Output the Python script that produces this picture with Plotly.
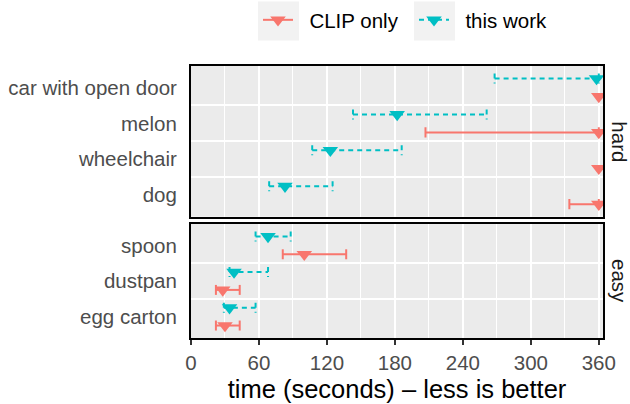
import plotly.graph_objects as go

# ---------------- data ----------------
hard_labels = ["car with open door", "melon", "wheelchair", "dog"]
easy_labels = ["spoon", "dustpan", "egg carton"]

work_hard_mean = [358, 182, 123, 83]
work_hard_lo = [268, 143, 107, 69]
work_hard_hi = [360, 261, 186, 125]

clip_hard_mean = [360, 360, 360, 360]
clip_hard_lo = [None, 207, None, 334]
clip_hard_hi = [None, 360, None, 360]

work_easy_mean = [68, 38, 34]
work_easy_lo = [57, 34, 29]
work_easy_hi = [88, 68, 57]

clip_easy_mean = [100, 28, 30]
clip_easy_lo = [81, 22, 22]
clip_easy_hi = [137, 43, 43]

x_ticks = [0, 60, 120, 180, 240, 300, 360]

# ---------------- style ----------------
CLIP_COL = "#F8766D"
WORK_COL = "#00BFC4"
FONT = "Liberation Sans, Arial, sans-serif"
FS = 20.5
DODGE = 0.25
CAP = 0.14
DASH = "5px,4px"
MSIZE = 13.5

W, H = 630, 404
ML, MR, MT, MB = 191, 27, 66, 66
PW, PH = W - ML - MR, H - MT - MB


def px_x(p):
    return (p - ML) / PW


def px_y(p):
    return (H - MB - p) / PH


def bar_xy(lo, hi, offset):
    xs, ys = [], []
    for i, (a, b) in enumerate(zip(lo, hi)):
        if a is None or b is None:
            continue
        yy = i + 1 + offset
        xs += [a, b, None, a, a, None, b, b, None]
        ys += [yy, yy, None, yy - CAP, yy + CAP, None, yy - CAP, yy + CAP, None]
    return xs, ys


def point_xy(mean, offset):
    xs, ys = [], []
    for i, m in enumerate(mean):
        xs += [m, None]
        ys += [i + 1 + offset, None]
    return xs, ys


fig = go.Figure()

panels = [
    ("x2", "y", work_hard_mean, work_hard_lo, work_hard_hi,
     clip_hard_mean, clip_hard_lo, clip_hard_hi, True),
    ("x", "y2", work_easy_mean, work_easy_lo, work_easy_hi,
     clip_easy_mean, clip_easy_lo, clip_easy_hi, False),
]

for xa, ya, wm, wl, wh, cm, cl, ch, legend in panels:
    bx, by = bar_xy(cl, ch, DODGE)
    fig.add_trace(go.Scatter(x=bx, y=by, mode="lines", xaxis=xa, yaxis=ya,
                             line=dict(color=CLIP_COL, width=2),
                             showlegend=False, hoverinfo="skip"))
    bx, by = bar_xy(wl, wh, -DODGE)
    fig.add_trace(go.Scatter(x=bx, y=by, mode="lines", xaxis=xa, yaxis=ya,
                             line=dict(color=WORK_COL, width=2, dash=DASH),
                             showlegend=False, hoverinfo="skip"))

for xa, ya, wm, wl, wh, cm, cl, ch, legend in panels:
    px_, py_ = point_xy(cm, DODGE)
    fig.add_trace(go.Scatter(x=px_, y=py_, mode="lines+markers", xaxis=xa, yaxis=ya,
                             name="\u00a0\u00a0CLIP only", legendgroup="clip",
                             showlegend=legend, legendrank=1,
                             line=dict(color=CLIP_COL, width=2),
                             marker=dict(symbol="triangle-down", size=MSIZE,
                                         color=CLIP_COL)))
    px_, py_ = point_xy(wm, -DODGE)
    fig.add_trace(go.Scatter(x=px_, y=py_, mode="lines+markers", xaxis=xa, yaxis=ya,
                             name="\u00a0\u00a0this work", legendgroup="work",
                             showlegend=legend, legendrank=2,
                             line=dict(color=WORK_COL, width=2, dash=DASH),
                             marker=dict(symbol="triangle-down", size=MSIZE,
                                         color=WORK_COL)))

minor_x = [v + 30 for v in x_ticks[:-1]]
common_x = dict(
    range=[0, 363.7], tickvals=x_ticks, showgrid=True, gridcolor="white",
    gridwidth=2, zeroline=False, showline=True, mirror=True, linecolor="black",
    linewidth=2,
    minor=dict(tickvals=minor_x, showgrid=True, gridcolor="white", gridwidth=1.1, ticks=""),
)

hard_top = 66
hard_bot = 216.7
easy_top = 224
easy_bot = 338

fig.update_layout(
    width=W, height=H,
    margin=dict(l=ML, r=MR, t=MT, b=MB, pad=0, autoexpand=False),
    paper_bgcolor="white", plot_bgcolor="#EBEBEB",
    font=dict(family=FONT, size=FS, color="#4D4D4D"),
    xaxis=dict(**common_x, anchor="y2", domain=[0, 1],
               ticks="outside", ticklen=5, tickwidth=1.7, tickcolor="#333333",
               tickfont=dict(size=FS, color="#4D4D4D"),
               title=dict(text="time (seconds) \u2013 less is better",
                          font=dict(size=25.5, color="black"), standoff=8)),
    xaxis2=dict(**common_x, anchor="y", matches="x", domain=[0, 1],
                showticklabels=False, ticks=""),
    yaxis=dict(domain=[px_y(hard_bot), px_y(hard_top)], anchor="x2",
               range=[len(hard_labels) + 0.6, 0.4],
               tickvals=list(range(1, len(hard_labels) + 1)), ticktext=hard_labels,
               showgrid=False, zeroline=False, ticks="", ticklabelstandoff=8,
               showline=True, mirror=True, linecolor="black", linewidth=2,
               minor=dict(tickvals=[i + 0.5 for i in range(1, len(hard_labels))],
                          showgrid=True, gridcolor="white", gridwidth=2, ticks="")),
    yaxis2=dict(domain=[px_y(easy_bot), px_y(easy_top)], anchor="x",
                range=[len(easy_labels) + 0.6, 0.4],
                tickvals=list(range(1, len(easy_labels) + 1)), ticktext=easy_labels,
                showgrid=False, zeroline=False, ticks="", ticklabelstandoff=8,
                showline=True, mirror=True, linecolor="black", linewidth=2,
                minor=dict(tickvals=[i + 0.5 for i in range(1, len(easy_labels))],
                           showgrid=True, gridcolor="white", gridwidth=2, ticks="")),
    legend=dict(orientation="h", x=px_x(258), xanchor="left",
                y=px_y(20), yanchor="middle", bgcolor="rgba(0,0,0,0)",
                font=dict(size=FS, color="black"), entrywidth=111,
                entrywidthmode="pixels", traceorder="normal"),
    showlegend=True,
)

# legend key backgrounds
for x0 in (258, 414):
    fig.add_shape(type="rect", xref="paper", yref="paper",
                  x0=px_x(x0), x1=px_x(x0 + 41), y0=px_y(40.5), y1=px_y(1.5),
                  fillcolor="#F2F2F2", line=dict(width=0), layer="below")

# facet strip labels
for txt, top, bot in (("hard", hard_top, hard_bot), ("easy", easy_top, easy_bot)):
    fig.add_annotation(text=txt, xref="paper", yref="paper",
                       x=px_x(620), y=px_y((top + bot) / 2), showarrow=False,
                       textangle=90, font=dict(size=FS, color="#1A1A1A"),
                       xanchor="center", yanchor="middle")

fig.write_html("out.html")
